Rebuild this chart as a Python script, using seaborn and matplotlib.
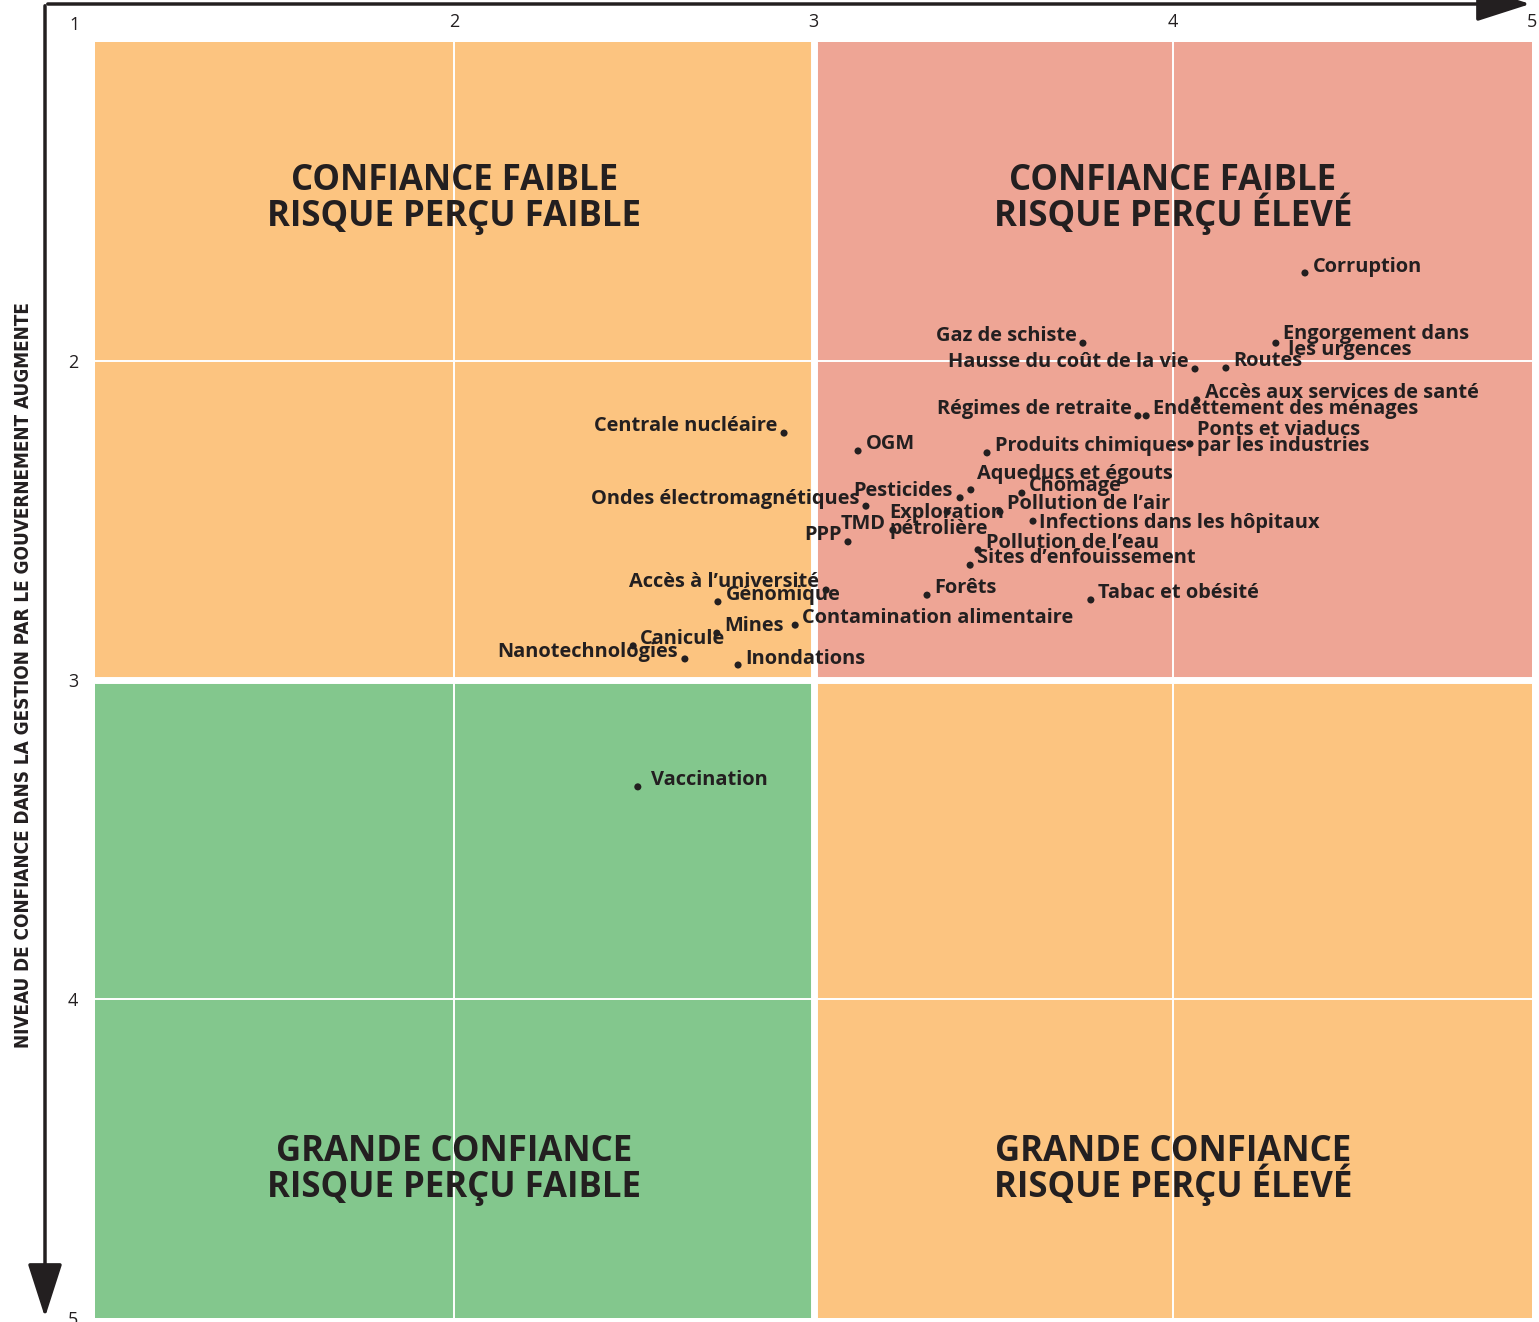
import pandas as pd
import matplotlib.pyplot as plt
import seaborn as sns
from matplotlib.patches import Rectangle, FancyArrowPatch, ArrowStyle

# Risk perception (x) vs confidence in government management (y, 1 = low)
enjeux = [
    "Corruption", "Engorgement dans\n les urgences", "Routes", "Hausse du coût de la vie",
    "Gaz de schiste", "Accès aux services de santé", "Régimes de retraite",
    "Endettement des ménages", "Ponts et viaducs\npar les industries", "Produits chimiques",
    "OGM", "Centrale nucléaire", "Aqueducs et égouts", "Pesticides", "Chômage",
    "Ondes électromagnétiques", "Pollution de l’air", "Exploration\npétrolière", "TMD",
    "Infections dans les hôpitaux", "PPP", "Pollution de l’eau", "Sites d’enfouissement",
    "Accès à l’université", "Génomique", "Forêts", "Tabac et obésité",
    "Contamination alimentaire", "Mines", "Canicule", "Nanotechnologies", "Inondations",
    "Vaccination",
]
risque = [
    4.368, 4.287, 4.148, 4.062, 3.750, 4.067, 3.903, 3.926, 4.048, 3.483,
    3.124, 2.918, 3.438, 3.408, 3.580, 3.146, 3.519, 3.372, 3.221, 3.611,
    3.096, 3.458, 3.436, 3.035, 2.734, 3.316, 3.772, 2.949, 2.731, 2.498,
    2.642, 2.790, 2.511,
]
confiance = [
    1.724, 1.944, 2.022, 2.025, 1.944, 2.122, 2.172, 2.172, 2.260, 2.288,
    2.282, 2.226, 2.404, 2.429, 2.414, 2.455, 2.473, 2.473, 2.530, 2.502,
    2.567, 2.592, 2.640, 2.718, 2.755, 2.734, 2.749, 2.828, 2.853, 2.893,
    2.934, 2.953, 3.335,
]

# label placement (pixels from the dot) - style only
label_dx = [8, 7, 7, -6, -6, 8, -6, 7, 7, 8,
            8, -7, 6, -7, 7, -7, 7, 0, -7, 6,
            -6, 8, 7, -7, 8, 7, 7, 7, 7, 7,
            -7, 7, 13]
label_dy = [6, 1, 7, 7, 7, 7, 7, 7, 6, 7,
            7, 7, 16, 7, 7, 7, 8, -9, 6, -2,
            7, 7, 7, 8, 7, 7, 7, 7, 7, 7,
            7, 6, 7]

# quadrants
quad_line1 = ["CONFIANCE FAIBLE", "CONFIANCE FAIBLE", "GRANDE CONFIANCE", "GRANDE CONFIANCE"]
quad_line2 = ["RISQUE PERÇU FAIBLE", "RISQUE PERÇU ÉLEVÉ",
              "RISQUE PERÇU FAIBLE", "RISQUE PERÇU ÉLEVÉ"]
quad_x0 = [1, 3, 1, 3]
quad_y0 = [1, 1, 3, 3]
quad_colors = ["#FCC480", "#EEA595", "#83C78D", "#FCC480"]
quad_title_x = [2.0, 4.0, 2.0, 4.0]
quad_title_y = [1.483, 1.483, 4.527, 4.527]

ticks = [2, 3, 4, 5]
ink = "#231F20"

sns.set_theme(style="white")
plt.rcParams['font.family'] = ['Open Sans', 'DejaVu Sans']

df = pd.DataFrame({"enjeu": enjeux, "risque": risque, "confiance": confiance})

W, H = 1539, 1322
fig = plt.figure(figsize=(W / 100, H / 100), dpi=100)
ax = fig.add_axes([95 / W, 4 / H, 1437 / W, 1276 / H])

for x0, y0, c in zip(quad_x0, quad_y0, quad_colors):
    ax.add_patch(Rectangle((x0, y0), 2, 2, facecolor=c, edgecolor="none", zorder=0))

for v in [2, 4]:
    ax.axvline(v, color="white", lw=1.4, zorder=1)
    ax.axhline(v, color="white", lw=1.4, zorder=1)
ax.axvline(3, color="white", lw=5, zorder=1)
ax.axhline(3, color="white", lw=5, zorder=1)

for l1, l2, tx, ty in zip(quad_line1, quad_line2, quad_title_x, quad_title_y):
    for line, off in [(l1, 6), (l2, -30)]:
        ax.annotate(line, (tx, ty), xytext=(0, off), textcoords="offset pixels",
                    ha="center", va="baseline", fontsize=25, fontweight="bold",
                    color=ink, zorder=2)

sns.scatterplot(data=df, x="risque", y="confiance", color=ink, s=26,
                edgecolor="none", legend=False, zorder=5, ax=ax)

for name, x, y, dx, dy in zip(enjeux, risque, confiance, label_dx, label_dy):
    ha = "left" if dx > 0 else ("right" if dx < 0 else "center")
    ax.annotate(name, (x, y), xytext=(dx, dy), textcoords="offset pixels",
                ha=ha, va="center", fontsize=14.4, fontweight="bold", color=ink,
                linespacing=0.7, zorder=6, multialignment="left")

ax.set_xlim(1, 5)
ax.set_ylim(5, 1)
ax.set_xlabel("")
ax.set_ylabel("")
for s in ax.spines.values():
    s.set_visible(False)
ax.xaxis.tick_top()
ax.set_xticks(ticks)
ax.set_yticks(ticks)
ax.tick_params(axis="both", length=0, labelsize=13, labelcolor=ink)
ax.tick_params(axis="x", pad=8)
ax.tick_params(axis="y", pad=12)
fig.text(75 / W, 1 - 25 / H, "1", ha="center", va="center", fontsize=13, color=ink)

# axis arrows
style = ArrowStyle("-|>", head_length=1.4, head_width=0.45)
fig.add_artist(FancyArrowPatch((45 / W, 1 - 4 / H), (1533 / W, 1 - 4 / H),
                               transform=fig.transFigure, arrowstyle=style,
                               mutation_scale=24, color=ink, lw=2.5))
fig.add_artist(FancyArrowPatch((45 / W, 1 - 3 / H), (45 / W, 1 - 1320 / H),
                               transform=fig.transFigure, arrowstyle=style,
                               mutation_scale=24, color=ink, lw=2.5))

fig.text(24 / W, 1 - 675 / H,
         "NIVEAU DE CONFIANCE DANS LA GESTION PAR LE GOUVERNEMENT AUGMENTE",
         rotation=90, ha="center", va="center", fontsize=13.6, fontweight="bold",
         fontstretch="condensed", color=ink, family=['DejaVu Sans'])

fig.savefig("out.png", dpi=100)
plt.close(fig)
